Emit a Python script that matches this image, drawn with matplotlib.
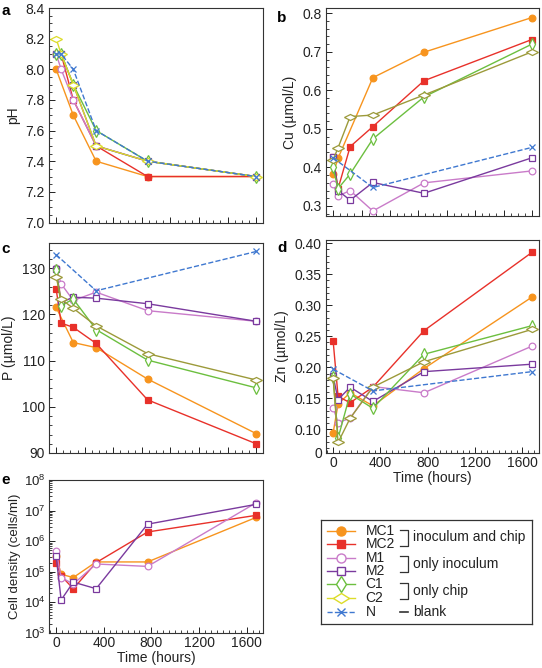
import numpy as np
import matplotlib
matplotlib.use("Agg")
import matplotlib.pyplot as plt
from matplotlib.markers import MarkerStyle
from matplotlib.transforms import Affine2D
from matplotlib.ticker import MultipleLocator, FixedLocator, LogLocator, NullFormatter, FixedFormatter

plt.rcParams['font.family'] = ['Liberation Sans', 'DejaVu Sans']
plt.rcParams['mathtext.fontset'] = 'custom'
plt.rcParams['mathtext.rm'] = 'Liberation Sans'
plt.rcParams['mathtext.it'] = 'Liberation Sans'

nan = np.nan
# sampling times (hours)
times = [0, 42, 144, 336, 768, 1680]
series = ['MC1', 'MC2', 'M1', 'M2', 'C1', 'C2', 'N']

ph = {
    'MC1': [8.0, nan, 7.7, 7.4, 7.3, 7.3],
    'MC2': [8.1, 8.1, 7.8, 7.5, 7.3, 7.3],
    'M1':  [8.1, 8.0, 7.8, 7.5, 7.4, 7.3],
    'M2':  [8.1, 8.1, 7.9, 7.5, 7.4, 7.3],
    'C1':  [8.1, 8.1, 7.9, 7.6, 7.4, 7.3],
    'C2':  [8.2, 8.1, 7.9, 7.5, 7.4, 7.3],
    'N':   [8.1, 8.1, 8.0, 7.6, 7.4, 7.3],
}
cu = {
    'MC1': [0.383, 0.424, nan, 0.633, 0.699, 0.789],
    'MC2': [0.428, 0.345, 0.454, 0.506, 0.625, 0.732],
    'M1':  [0.357, 0.326, 0.340, 0.287, 0.360, 0.391],
    'M2':  [0.428, 0.340, 0.315, 0.361, 0.333, 0.425],
    'C1':  [0.400, 0.345, 0.383, 0.474, 0.583, 0.720],
    'C2':  [0.420, 0.451, 0.532, 0.536, 0.588, 0.700],
    'N':   [0.425, nan, nan, 0.348, nan, 0.452],
}
p = {
    'MC1': [121.5, nan, 113.9, 112.8, 106.0, 94.2],
    'MC2': [125.5, 118.1, 117.2, 113.7, 101.5, 92.0],
    'M1':  [130.0, 126.6, 123.0, 124.8, 120.8, 118.5],
    'M2':  [129.8, 122.6, 123.7, 123.5, 122.3, 118.5],
    'C1':  [129.6, 121.9, 123.3, 116.7, 110.1, 104.1],
    'C2':  [128.1, 123.3, 121.3, 117.5, 111.5, 105.8],
    'N':   [132.9, nan, nan, 125.1, nan, 133.6],
}
zn = {
    'MC1': [0.094, 0.141, 0.159, 0.138, 0.198, 0.313],
    'MC2': [0.243, 0.153, 0.143, 0.168, 0.259, 0.385],
    'M1':  [0.135, 0.111, 0.118, 0.169, 0.159, 0.234],
    'M2':  [0.186, 0.148, 0.168, 0.145, 0.193, 0.205],
    'C1':  [0.185, 0.086, 0.157, 0.134, 0.221, 0.267],
    'C2':  [0.183, 0.079, 0.118, 0.168, 0.209, 0.261],
    'N':   [0.197, nan, nan, 0.162, nan, 0.193],
}
cells = {
    'MC1': [3.4e5, 8.3e4, 6.5e4, 2.1e5, 2.1e5, 6.0e6],
    'MC2': [1.9e5, 7.4e4, 2.8e4, 2.0e5, 2.0e6, 7.0e6],
    'M1':  [4.7e5, 6.5e4, 4.0e4, 1.8e5, 1.5e5, 1.8e7],
    'M2':  [3.2e5, 1.2e4, 4.6e4, 2.8e4, 3.6e6, 1.6e7],
}

colors = {'MC1': '#F7941E', 'MC2': '#E8312A', 'M1': '#C97BC9', 'M2': '#7A3A9E',
          'C1': '#6CBF3F', 'C2': '#DCDC2A', 'N': '#3F78D0'}
C2_olive = '#9C9A3A'

hdiam = MarkerStyle('d', transform=Affine2D().rotate_deg(90))
styles = {
    'MC1': dict(marker='o', ms=4.8, mfc=colors['MC1'], mec=colors['MC1'], ls='-'),
    'MC2': dict(marker='s', ms=4.4, mfc=colors['MC2'], mec=colors['MC2'], ls='-'),
    'M1':  dict(marker='o', ms=4.8, mfc='white', mec=colors['M1'], ls='-'),
    'M2':  dict(marker='s', ms=4.4, mfc='white', mec=colors['M2'], ls='-'),
    'C1':  dict(marker='d', ms=5.8, mfc='white', mec=colors['C1'], ls='-'),
    'C2':  dict(marker=hdiam, ms=5.8, mfc='white', mec=colors['C2'], ls='-'),
    'N':   dict(marker='x', ms=4.5, mfc=colors['N'], mec=colors['N'], ls='--'),
}

W, H = 542, 668
fig = plt.figure(figsize=(W / 100, H / 100), dpi=100)

def px(l, t, r, b):
    return [l / W, 1 - b / H, (r - l) / W, (b - t) / H]

FS = 10

def style_ax(ax, xlabels):
    for s in ['top', 'right', 'left', 'bottom']:
        ax.spines[s].set_linewidth(0.8)
        ax.spines[s].set_color('#333333')
    ax.tick_params(which='both', direction='in', top=False, right=False, labelsize=FS, colors='#222222')
    ax.tick_params(which='major', length=4, width=0.7)
    ax.tick_params(which='minor', length=2.2, width=0.6)
    ax.tick_params(axis='x', pad=2.5)
    ax.tick_params(axis='y', pad=3)
    ax.set_xlim(-60, 1740)
    if xlabels:
        ax.xaxis.set_major_locator(MultipleLocator(400))
        ax.xaxis.set_minor_locator(MultipleLocator(50))
        ax.set_xlabel('Time (hours)', fontsize=FS, labelpad=0.5)
    else:
        ax.xaxis.set_major_locator(MultipleLocator(240))
        ax.xaxis.set_minor_locator(MultipleLocator(60))
        ax.set_xticklabels([])

def draw(ax, data, names, olive=False):
    for name in names:
        y = np.array(data[name], dtype=float)
        t = np.array(times, dtype=float)
        m = ~np.isnan(y)
        st = dict(styles[name])
        col = colors[name]
        if name == 'C2' and olive:
            col = C2_olive
            st['mec'] = C2_olive
        ax.plot(t[m], y[m], color=col, lw=1.0, mew=0.9, zorder=3, clip_on=False, **st)

order = ['MC1', 'MC2', 'M1', 'M2', 'C1', 'C2', 'N']

# a: pH
axa = fig.add_axes(px(49, 8, 263.3, 222.5))
draw(axa, ph, order)
style_ax(axa, False)
axa.set_ylim(7.0, 8.4)
axa.yaxis.set_major_locator(MultipleLocator(0.2))
axa.yaxis.set_minor_locator(MultipleLocator(0.05))
axa.yaxis.set_major_formatter(matplotlib.ticker.FormatStrFormatter('%.1f'))
axa.set_ylabel('pH', fontsize=FS)

# b: Cu
axb = fig.add_axes(px(326, 8.3, 539, 216))
draw(axb, cu, order, olive=True)
style_ax(axb, False)
axb.set_ylim(0.274, 0.813)
axb.yaxis.set_major_locator(MultipleLocator(0.1))
axb.yaxis.set_minor_locator(MultipleLocator(0.02))
axb.yaxis.set_major_formatter(matplotlib.ticker.FormatStrFormatter('%.1f'))
axb.set_ylabel('Cu (µmol/L)', fontsize=FS)

# c: P
axc = fig.add_axes(px(49, 242.7, 263.3, 453))
draw(axc, p, order, olive=True)
style_ax(axc, False)
axc.set_ylim(90, 135.5)
axc.yaxis.set_major_locator(MultipleLocator(10))
axc.yaxis.set_minor_locator(MultipleLocator(2))
axc.set_ylabel('P (µmol/L)', fontsize=FS)

# d: Zn
axd = fig.add_axes(px(326, 240, 539, 453))
draw(axd, zn, order, olive=True)
style_ax(axd, True)
zlo = 0.062
axd.set_ylim(zlo, 0.405)
zt = [zlo, 0.10, 0.15, 0.20, 0.25, 0.30, 0.35, 0.40]
axd.yaxis.set_major_locator(FixedLocator(zt))
axd.yaxis.set_major_formatter(FixedFormatter(['0'] + ['%.2f' % v for v in zt[1:]]))
axd.yaxis.set_minor_locator(FixedLocator(np.round(np.arange(0.07, 0.405, 0.01), 3)))
axd.set_ylabel('Zn (µmol/L)', fontsize=FS)

# e: cell density
axe = fig.add_axes(px(49, 480, 263.3, 633))
draw(axe, cells, ['MC1', 'MC2', 'M1', 'M2'])
style_ax(axe, True)
axe.set_yscale('log')
axe.set_ylim(1e3, 1e8)
axe.yaxis.set_major_locator(LogLocator(base=10, numticks=10))
axe.yaxis.set_minor_locator(LogLocator(base=10, subs=np.arange(2, 10), numticks=10))
axe.yaxis.set_minor_formatter(NullFormatter())
axe.yaxis.set_major_formatter(matplotlib.ticker.FuncFormatter(
    lambda v, pos: r'$\mathregular{10^{%d}}$' % round(np.log10(v))))
axe.tick_params(axis='y', labelsize=9.5, pad=2.5)
axe.set_ylabel('Cell density (cells/ml)', fontsize=9.5, labelpad=2)

for ax in [axa, axb, axc, axd, axe]:
    ax.yaxis.label.set_color('#222222')
    ax.xaxis.label.set_color('#222222')

# panel letters
for (x, y, s) in [(1, 15, 'a'), (277, 22, 'b'), (1, 253, 'c'), (277, 252, 'd'), (1, 484, 'e')]:
    fig.text(x / W, 1 - y / H, s, fontsize=11, fontweight='bold', va='baseline', ha='left')

# legend
lx0, ly0, lx1, ly1 = 320.7, 520, 531.7, 624
axl = fig.add_axes(px(lx0, ly0, lx1, ly1))
axl.set_xlim(0, lx1 - lx0)
axl.set_ylim(ly1 - ly0, 0)
axl.set_xticks([])
axl.set_yticks([])
for s in axl.spines.values():
    s.set_linewidth(0.9)
    s.set_color('#333333')
rows = [11, 24, 37.7, 50.7, 64.3, 77.7, 92.3]
for name, yy in zip(order, rows):
    st = dict(styles[name])
    axl.plot([6, 34], [yy, yy], color=colors[name], lw=1.0, ls=st['ls'])
    st.pop('ls')
    st['ms'] = st['ms'] * 1.35
    axl.plot([20], [yy], color=colors[name], ls='none', mew=1.0, **st)
    axl.text(45, yy, name, fontsize=FS, va='center', ha='left', color='#222222')
groups = [(0, 1, 'inoculum and chip'), (2, 3, 'only inoculum'), (4, 5, 'only chip')]
for i, j, lab in groups:
    ya, yb = rows[i] - 1.5, rows[j] + 1.5
    axl.plot([79.3, 87.7, 87.7, 79.3], [ya, ya, yb, yb], color='#333333', lw=0.9)
    axl.text(92.5, (rows[i] + rows[j]) / 2, lab, fontsize=FS, va='center', ha='left', color='#222222')
axl.plot([79.3, 87.7], [rows[6], rows[6]], color='#333333', lw=1.2)
axl.text(92.5, rows[6], 'blank', fontsize=FS, va='center', ha='left', color='#222222')

fig.savefig('out.png', dpi=100)
